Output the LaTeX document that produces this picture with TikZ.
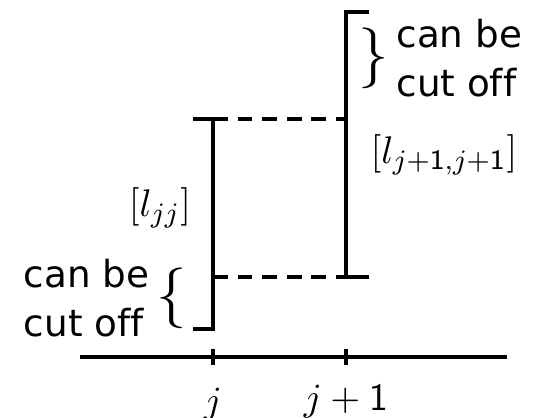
\documentclass[tikz,border=0pt]{standalone}
\usepackage{amsmath}
\usepackage{fontspec}
\setsansfont{DejaVu Sans}[Ligatures=NoCommon]
\usetikzlibrary{positioning}
\newcommand{\one}{\text{\usefont{OT1}{cmss}{m}{n}1}}
\tikzset{
  bar/.style={line width=0.9pt},
  guide/.style={line width=0.9pt, dash pattern=on 4.2pt off 2.8pt},
  txt/.style={font=\sffamily\fontsize{10.6}{13.8}\selectfont, align=left, inner sep=0pt},
  lbl/.style={font=\fontsize{11.2}{13}\selectfont, inner sep=0pt},
  brc/.style={font=\fontsize{19}{21}\selectfont, inner sep=0pt}
}
\begin{document}
\begin{tikzpicture}[x=0.01cm, y=-0.01cm]
  \useasboundingbox (0,0) rectangle (539,417);
  % interval ends
  \def\xj{213}\def\xk{346}\def\ya{357}
  \coordinate (jtop) at (\xj,119);
  \coordinate (jbot) at (\xj,329);
  \coordinate (ktop) at (\xk,12);
  \coordinate (kbot) at (\xk,277);
  \coordinate (jmid) at (\xj,277);
  \coordinate (kmid) at (\xk,119);
  % axis with ticks
  \coordinate (axl) at (80,\ya);
  \coordinate (axr) at (507,\ya);
  \draw[bar] (axl) -- (axr);
  \draw[bar] (\xj,349) coordinate (tj) -- (\xj,365);
  \draw[bar] (\xk,349) coordinate (tk) -- (\xk,365);
  \node[lbl] (labj) at (\xj,405) {$j$};
  \node[lbl] (labk) at (\xk,402) {$j+\one$};
  % left interval
  \draw[bar] ([xshift=-0.2cm]jtop) -- (jtop) -- (jbot) -- ([xshift=-0.2cm]jbot);
  % right interval
  \draw[bar] ([xshift=0.23cm]ktop) -- (ktop) -- (kbot) -- ([xshift=0.23cm]kbot);
  \draw[guide] (jtop) -- (kmid);
  \draw[guide] (jmid) -- (kbot);
  % labels
  \node[lbl] (ljj) at (160,208) {$[l_{jj}]$};
  \node[lbl] (lkk) at (444,155) {$[l_{j+\one,j+\one}]$};
  \node[brc] (bl) at (172,298) {$\{$};
  \node[txt, left=0.06cm of bl] (cl) {can be\\cut off};
  \node[brc] (br) at (374,58) {$\}$};
  \node[txt, right=0.06cm of br] (cr) {can be\\cut off};
\end{tikzpicture}
\end{document}
